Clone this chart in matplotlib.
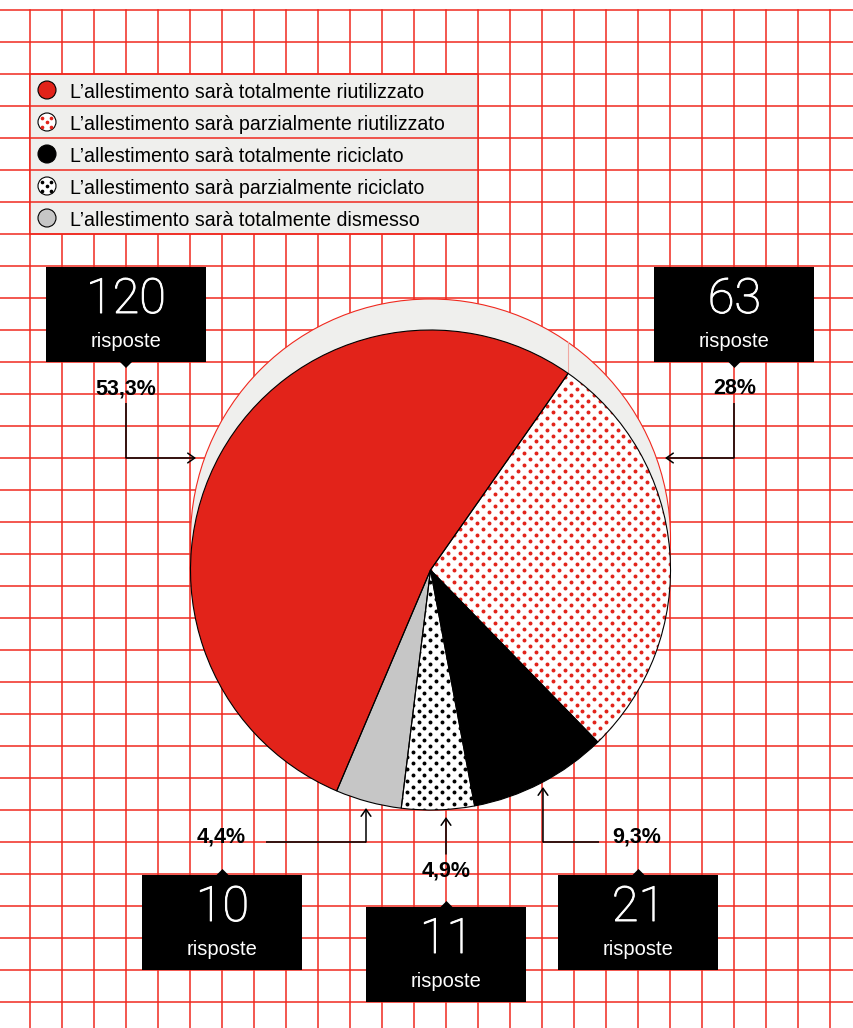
import numpy as np
import matplotlib.pyplot as plt
import matplotlib.patheffects as pe
from matplotlib.patches import Rectangle, Circle, Polygon

W, H = 854, 1028

# Survey answers, in legend order
labels = [
    "L’allestimento sarà totalmente riutilizzato",
    "L’allestimento sarà parzialmente riutilizzato",
    "L’allestimento sarà totalmente riciclato",
    "L’allestimento sarà parzialmente riciclato",
    "L’allestimento sarà totalmente dismesso",
]
counts = [120, 63, 21, 11, 10]

RED = "#e2231a"
GRID = "#f0291f"
PAPER = "#efefed"
fills = [RED, "white", "black", "white", "#c6c6c6"]
dotted = [False, True, False, True, False]
dot_cols = [RED, RED, "black", "black", "black"]

plt.rcParams["font.family"] = ["Liberation Sans", "DejaVu Sans"]

fig = plt.figure(figsize=(W / 100, H / 100), dpi=100)
ax = fig.add_axes([0, 0, 1, 1])


def fy(y):
    # layout is written top-down in pixels
    return H - y


def fmt_pct(v):
    s = f"{v:.1f}".replace(".", ",")
    if s.endswith(",0"):
        s = s[:-2]
    return s + "%"


def dot_fill(patch, x0, x1, y0, y1, color, step=11.7, size=8.0, z=5.5):
    # diagonal dot screen clipped to a patch
    pts = []
    for j, y in enumerate(np.arange(y0, y1 + step, step / 2)):
        shift = (step / 2) * (j % 2)
        for x in np.arange(x0 + shift, x1 + step, step):
            pts.append((x, y))
    pts = np.array(pts)
    sc = ax.scatter(pts[:, 0], pts[:, 1], s=size, c=color, marker="o",
                    linewidths=0, zorder=z)
    sc.set_clip_path(patch)


# red squared paper
for x in np.arange(30, W, 32):
    ax.plot([x, x], [fy(10), 0], color=GRID, lw=1.1, zorder=1)
for y in np.arange(10, H, 32):
    ax.plot([0, W], [fy(y), fy(y)], color=GRID, lw=1.1, zorder=3)

# legend
row_h, leg_top = 32, 74
ax.add_patch(Rectangle((30, fy(leg_top + row_h * len(labels))), 448, row_h * len(labels),
                       fc=PAPER, ec=GRID, lw=1.1, zorder=2))
five = np.array([(0, 0), (-4.5, -4.5), (4.5, -4.5), (-4.5, 4.5), (4.5, 4.5)])
for i, lab in enumerate(labels):
    yc = fy(leg_top + row_h * (i + 0.5))
    ax.add_patch(Circle((47, yc), 9, fc=fills[i], ec="black", lw=0.8, zorder=4))
    if dotted[i]:
        ax.scatter(47 + five[:, 0], yc + five[:, 1], s=7, c=dot_cols[i],
                   linewidths=0, zorder=4.2)
    ax.text(70, yc, lab, fontsize=14.1, va="center_baseline", zorder=4)

# pie, with its lifted grey rim behind
cx, cy, r, lift = 430.5, fy(570), 240, 31
total = sum(counts)
split = 55.0
start = split + 360 * counts[0] / total

ax.add_patch(Circle((cx, cy + lift), r, fc=PAPER, ec=GRID, lw=0.8, zorder=4))
a = np.deg2rad(split)
bx, by = cx + r * np.cos(a), cy + r * np.sin(a)
ax.plot([bx, bx], [by, by + lift], color="#f0a8a2", lw=0.8, zorder=4.5)

wedges, _ = ax.pie(counts, colors=fills, startangle=start, counterclock=False,
                   center=(cx, cy), radius=r, frame=True,
                   wedgeprops=dict(lw=0, zorder=5))
for w, d, dc in zip(wedges, dotted, dot_cols):
    if d:
        dot_fill(w, cx - r, cx + r, cy - r, cy + r, dc)
ax.pie(counts, startangle=start, counterclock=False, center=(cx, cy), radius=r,
       frame=True, wedgeprops=dict(fc="none", ec="black", lw=0.8, zorder=6))

# callouts: box centre x, box top, pointer side, percentage spot, leader path
box_w, box_h = 160, 95
callouts = [
    (126, 267, "down", (126, 395), [(126, 403), (126, 458), (196, 458)]),
    (734.5, 267, "down", (734.5, 394), [(734, 403), (734, 458), (665, 458)]),
    (638.5, 875, "up", (637, 842), [(599, 842), (543, 842), (543, 787)]),
    (446.5, 907, "up", (446.5, 877), [(446, 854), (446, 817)]),
    (222.5, 875, "up", (221, 842), [(266, 842), (366, 842), (366, 808)]),
]
thicker = [pe.withStroke(linewidth=0.7, foreground="white")]

for n, (bxc, top, side, (px, py), path) in zip(counts, callouts):
    ax.add_patch(Rectangle((bxc - box_w / 2, fy(top + box_h)), box_w, box_h,
                           fc="black", ec="none", zorder=6))
    if side == "down":
        tri = [(bxc - 6, fy(top + box_h)), (bxc + 6, fy(top + box_h)), (bxc, fy(top + box_h + 6))]
    else:
        tri = [(bxc - 6, fy(top)), (bxc + 6, fy(top)), (bxc, fy(top - 6))]
    ax.add_patch(Polygon(tri, closed=True, fc="black", ec="none", zorder=6))
    ax.text(bxc, fy(top + 46), str(n), color="white", fontsize=35,
            fontfamily="Roboto", fontweight="light", ha="center", va="baseline",
            path_effects=thicker, zorder=7)
    ax.text(bxc, fy(top + 80), "risposte", color="white", fontsize=14.5,
            ha="center", va="baseline", zorder=7)
    ax.text(px, fy(py), fmt_pct(100 * n / total), fontsize=15.5, fontweight="bold",
            ha="center", va="baseline", zorder=7)

    xs = [p[0] for p in path]
    ys = [fy(p[1]) for p in path]
    ax.plot(xs[:-1], ys[:-1], color="black", lw=1.1, zorder=6, solid_capstyle="butt")
    ax.annotate("", xy=(xs[-1], ys[-1]), xytext=(xs[-2], ys[-2]),
                arrowprops=dict(arrowstyle="->,head_length=0.5,head_width=0.35",
                                color="black", lw=1.1, shrinkA=0, shrinkB=0),
                zorder=6)

ax.set_xlim(0, W)
ax.set_ylim(0, H)
ax.set_aspect("auto")
ax.axis("off")

fig.savefig("out.png", dpi=100, facecolor="white")
